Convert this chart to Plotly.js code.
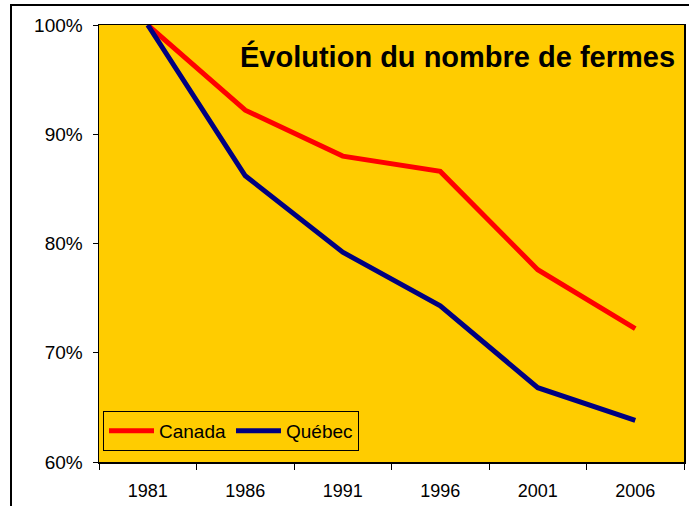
<!DOCTYPE html>
<html>
<head>
<meta charset="utf-8">
<script src="https://cdn.plot.ly/plotly-3.0.1.min.js"></script>
<style>
html,body{margin:0;padding:0;background:#fff;}
#chart{width:689px;height:506px;}
</style>
</head>
<body>
<div id="chart"></div>
<script>
const years = ['1981', '1986', '1991', '1996', '2001', '2006'];
const canada = [1.000, 0.922, 0.880, 0.866, 0.776, 0.722];
const quebec = [1.000, 0.862, 0.792, 0.743, 0.668, 0.638];
const yTicks = [0.6, 0.7, 0.8, 0.9, 1.0];
const yTickText = ['60%', '70%', '80%', '90%', '100%'];
const titleText = 'Évolution du nombre de fermes';

const FONT = 'Liberation Sans, Arial, sans-serif';

const traces = [
  {x: years, y: canada, name: 'Canada', type: 'scatter', mode: 'lines',
   line: {color: '#FF0000', width: 5}},
  {x: years, y: quebec, name: 'Québec', type: 'scatter', mode: 'lines',
   line: {color: '#000080', width: 5}}
];

const L = 99, T = 25, R = 5, B = 44, W = 689, H = 506;
const pw = W - L - R, ph = H - T - B;

const layout = {
  width: W, height: H,
  margin: {l: L, r: R, t: T, b: B, pad: 0},
  paper_bgcolor: '#FFFFFF',
  plot_bgcolor: '#FFCC00',
  font: {family: FONT, size: 16, color: '#000'},
  showlegend: true,
  legend: {
    x: (103 - L) / pw, y: (462 - 411) / ph, xanchor: 'left', yanchor: 'top',
    orientation: 'h', bgcolor: 'rgba(0,0,0,0)', bordercolor: '#000', borderwidth: 1,
    font: {family: FONT, size: 19, color: '#000'}, itemwidth: 45
  },
  xaxis: {
    type: 'category', range: [-0.5, 5.5], tickson: 'boundaries', ticks: 'outside', ticklen: 6,
    tickcolor: '#000', tickwidth: 1, showline: true, linecolor: '#000', linewidth: 1.5,
    mirror: true, showgrid: false, zeroline: false, fixedrange: true, ticklabelstandoff: 12,
    tickfont: {family: FONT, size: 18, color: '#000'}
  },
  yaxis: {
    range: [0.6, 1.0], tickvals: yTicks, ticktext: yTickText,
    ticks: 'outside', ticklen: 5, tickcolor: '#000', tickwidth: 1,
    showline: true, linecolor: '#000', linewidth: 1.5, mirror: true,
    showgrid: false, zeroline: false, fixedrange: true, ticklabelstandoff: 6,
    tickfont: {family: FONT, size: 19, color: '#000'}
  },
  annotations: [{
    xref: 'paper', yref: 'paper', x: (677 - L) / pw, y: (462 - 57) / ph,
    xanchor: 'right', yanchor: 'middle', showarrow: false,
    text: '<b>' + titleText + '</b>',
    font: {family: FONT, size: 29, color: '#000'}
  }],
  shapes: [{
    type: 'rect', xref: 'paper', yref: 'paper',
    x0: (11 - L) / pw, x1: (720 - L) / pw,
    y0: (462 - 540) / ph, y1: (462 - 5) / ph,
    line: {color: '#000', width: 2}, fillcolor: 'rgba(0,0,0,0)', layer: 'below'
  }]
};

Plotly.newPlot('chart', traces, layout, {displayModeBar: false, staticPlot: true});
</script>
</body>
</html>
